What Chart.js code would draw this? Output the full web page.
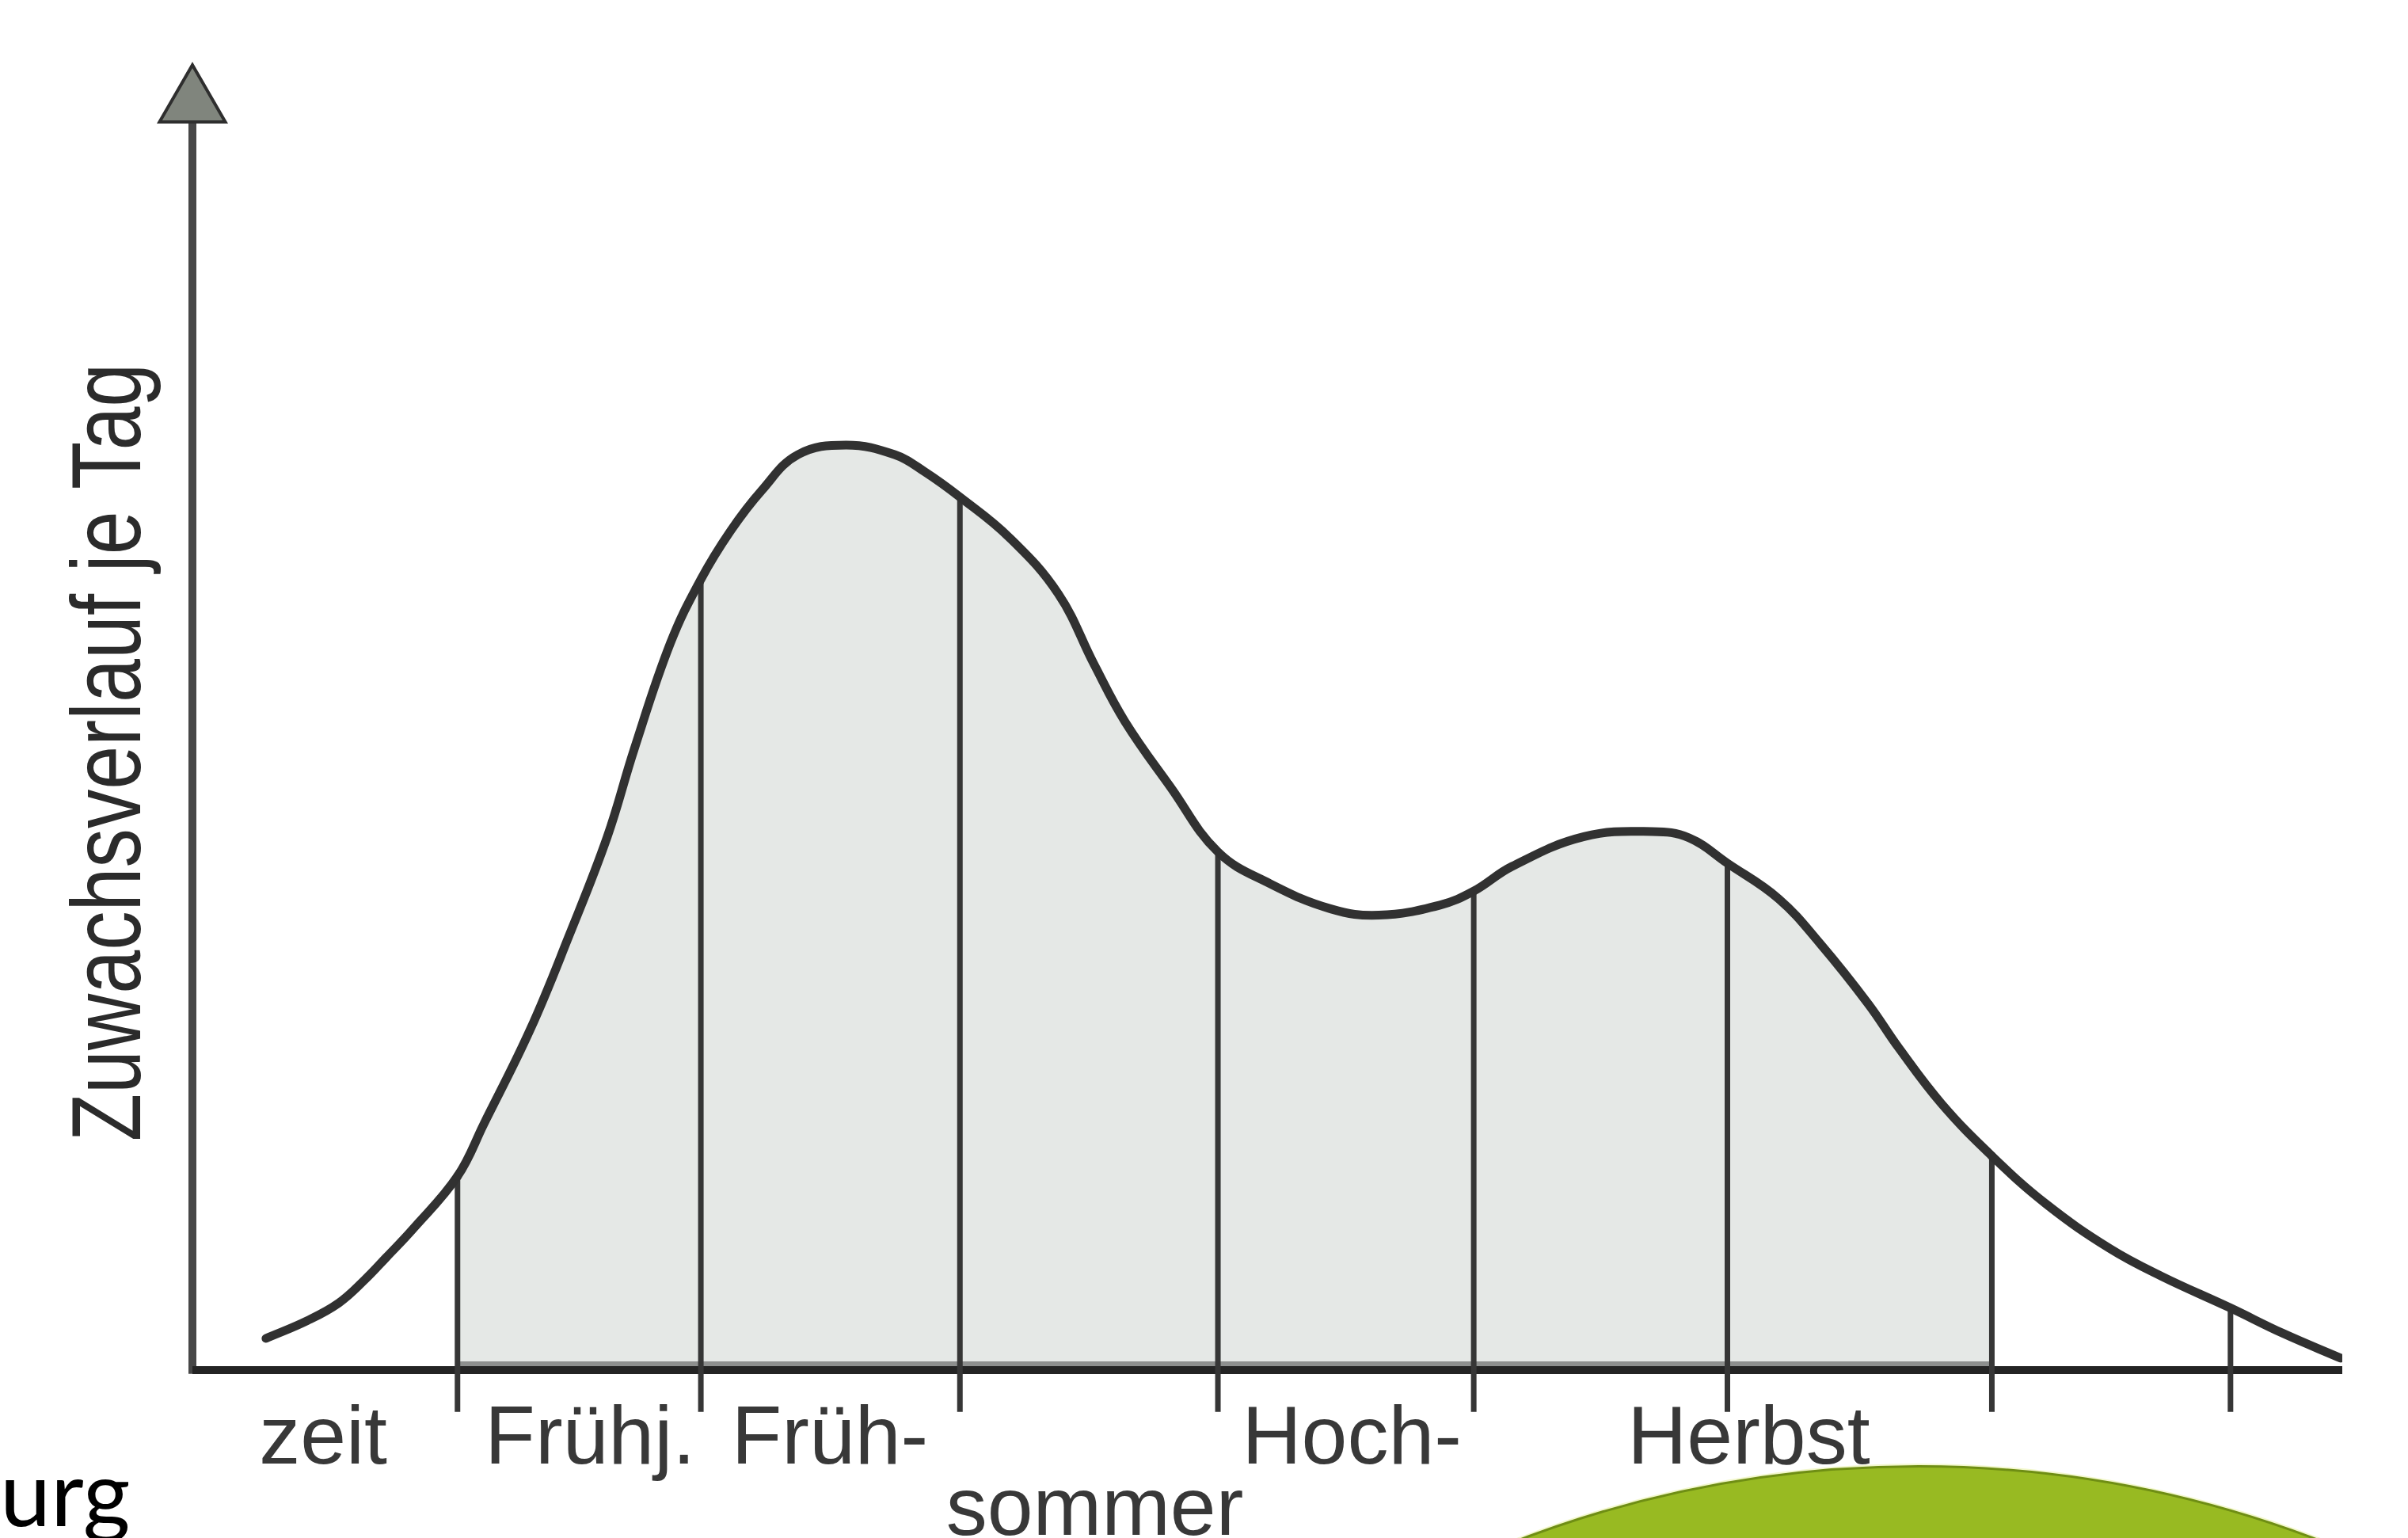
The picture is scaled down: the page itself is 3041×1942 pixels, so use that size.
<!DOCTYPE html>
<html lang="de">
<head>
<meta charset="utf-8">
<title>Zuwachsverlauf je Tag</title>
<script src="https://cdn.jsdelivr.net/npm/chart.js@4.4.1/dist/chart.umd.min.js"></script>
<style>
    html, body { margin: 0; padding: 0; background: #ffffff; overflow: hidden; }
    #wrap { position: relative; width: 3041px; height: 1942px; }
    #wrap canvas { position: absolute; left: 0; top: 0; }
    .side-text {
        position: absolute; left: 0; top: 1825px; width: 145px;
        text-align: right; font-family: Lato, 'Open Sans', sans-serif;
        font-size: 115px; line-height: 115px; color: #000; white-space: nowrap;
    }
    .green-disc {
        position: absolute; left: 1006px; top: 1850px; width: 2834px; height: 2834px;
        border-radius: 50%; background: #98ba22; box-sizing: border-box;
        border: 3px solid #6f8e14; box-shadow: 0 0 0 2px #f2f7cc;
    }
</style>
</head>
<body>
<div id="wrap">
    <canvas id="growthChart"></canvas>
    <div class="side-text">urg</div>
    <div class="green-disc"></div>
</div>
<script>
// Zuwachskurve (x: Jahresverlauf 0-100, y: Zuwachs je Tag 0-100)
const curveX = [3.42, 5.34, 6.81, 8.0, 9.02, 10.24, 12.33, 13.55, 15.72, 17.5, 19.3, 20.55,
    22.24, 23.65, 25.04, 26.47, 28.17, 30.41, 32.66, 34.06, 35.7, 38.0, 40.28, 41.94,
    43.37, 45.5, 47.7, 50.11, 52.95, 55.19, 58.03, 59.6, 61.38, 64.73, 67.9,
    69.62, 71.4, 73.78, 75.74, 77.95, 79.38, 81.37, 83.7, 86.23, 89.18, 91.6, 94.8,
    97.24, 99.93];
const curveY = [2.5, 3.9, 5.3, 7.1, 8.9, 11.1, 15.3, 19.4, 26.9, 34.2, 42.1, 49.0,
    57.4, 62.4, 66.25, 69.4, 72.25, 73.0, 72.25, 70.9, 68.9, 65.7, 61.25, 55.7,
    51.2, 46.0, 40.9, 38.4, 36.4, 35.9, 36.7, 37.8, 39.75, 42.1, 42.5,
    42.0, 40.0, 37.2, 33.6, 28.9, 25.4, 21.0, 16.9, 13.1, 9.6, 7.4, 4.9,
    2.9, 0.94];

// Grenzen der Abschnitte (senkrechte Linien)
const phaseX = [12.33, 23.65, 35.7, 47.7, 59.6, 71.4, 83.7, 94.8];
// grau hinterlegter Bereich
const shadeFrom = 12.33;
const shadeTo = 83.7;

// Beschriftung unter der Achse
const labelX = [6.08, 18.5, 29.65, 41.97, 53.93, 72.39];
const labelText = ['zeit', 'Frühj.', 'Früh-', 'sommer', 'Hoch-', 'Herbst'];
const labelRow = [0, 0, 0, 1, 0, 0];
const yTitle = 'Zuwachsverlauf je Tag';

const tickBottom = -3.3;
const arrowY = 100;

const fontFam = "'Liberation Sans', Arial, Helvetica, sans-serif";

const curvePoints = curveX.map((x, i) => ({ x: x, y: curveY[i] }));

function curveAt(x) {
    const i = curveX.indexOf(x);
    return i >= 0 ? curveY[i] : 0;
}

const phaseSets = phaseX.map(x => ({
    data: [{ x: x, y: tickBottom }, { x: x, y: curveAt(x) }],
    borderColor: '#363636',
    borderWidth: 7,
    pointRadius: 0,
    fill: false,
    clip: false,
    order: 2
}));

// y-Achsentitel, schmal gesetzt wie in der Vorlage
const yTitlePlugin = {
    id: 'yTitle',
    afterDraw(chart) {
        const c = chart.ctx;
        c.save();
        c.translate(177, 950);
        c.rotate(-Math.PI / 2);
        c.scale(0.79, 1);
        c.font = '125px ' + fontFam;
        c.fillStyle = '#2b2b2b';
        c.textAlign = 'center';
        c.textBaseline = 'alphabetic';
        c.fillText(yTitle, 0, 0);
        c.restore();
    }
};

const ctx = document.getElementById('growthChart').getContext('2d');
new Chart(ctx, {
    type: 'line',
    data: {
        datasets: [
            {
                // Kurve mit Flaeche
                data: curvePoints,
                borderColor: '#313131',
                borderWidth: 11,
                borderJoinStyle: 'round',
                borderCapStyle: 'round',
                tension: 0.4,
                pointRadius: 0,
                fill: 'origin',
                backgroundColor: 'rgba(0,0,0,0)',
                segment: {
                    backgroundColor: c => (c.p0.parsed.x >= shadeFrom - 0.001 && c.p1.parsed.x <= shadeTo + 0.001)
                        ? '#e5e8e6' : 'rgba(0,0,0,0)'
                },
                order: 1
            },
            ...phaseSets,
            {
                // Rasterkante ueber der Achse im grauen Bereich
                data: [{ x: shadeFrom, y: 0.5 }, { x: shadeTo, y: 0.5 }],
                borderColor: 'rgba(70,70,70,0.55)',
                borderWidth: 6,
                pointRadius: 0,
                fill: false,
                order: 3
            },
            {
                // x-Achse
                data: [{ x: 0, y: 0 }, { x: 100, y: 0 }],
                borderColor: '#242424',
                borderWidth: 10,
                pointRadius: 0,
                fill: false,
                clip: false,
                order: 3
            },
            {
                // y-Achse
                data: [{ x: 0, y: -0.3 }, { x: 0, y: arrowY }],
                borderColor: '#474747',
                borderWidth: 10,
                pointRadius: 0,
                fill: false,
                clip: false,
                order: 3
            },
            {
                // Pfeilspitze
                data: [{ x: 0, y: arrowY }],
                showLine: false,
                pointStyle: 'triangle',
                pointRadius: 48,
                pointBackgroundColor: '#80857d',
                pointBorderColor: '#2e2e2e',
                pointBorderWidth: 4,
                clip: false,
                order: 0
            }
        ]
    },
    options: {
        responsive: true,
        maintainAspectRatio: false,
        animation: false,
        events: [],
        layout: {
            padding: { left: 243, right: 83, top: 66, bottom: 0 }
        },
        plugins: {
            legend: { display: false },
            tooltip: { enabled: false },
            filler: { drawTime: 'beforeDatasetsDraw' }
        },
        scales: {
            x: {
                type: 'linear',
                min: 0,
                max: 100,
                grid: { display: false },
                border: { display: false },
                afterBuildTicks: axis => {
                    axis.ticks = labelX.map(v => ({ value: v }));
                },
                afterFit: scale => {
                    scale.height = 196;
                },
                ticks: {
                    autoSkip: false,
                    maxRotation: 0,
                    padding: 20,
                    color: '#383838',
                    font: { family: fontFam, size: 104, lineHeight: '90px' },
                    callback: (value, index) => labelRow[index] === 1 ? ['', labelText[index]] : labelText[index]
                }
            },
            y: {
                type: 'linear',
                display: false,
                min: -1,
                max: 104
            }
        }
    },
    plugins: [yTitlePlugin]
});
</script>
</body>
</html>
